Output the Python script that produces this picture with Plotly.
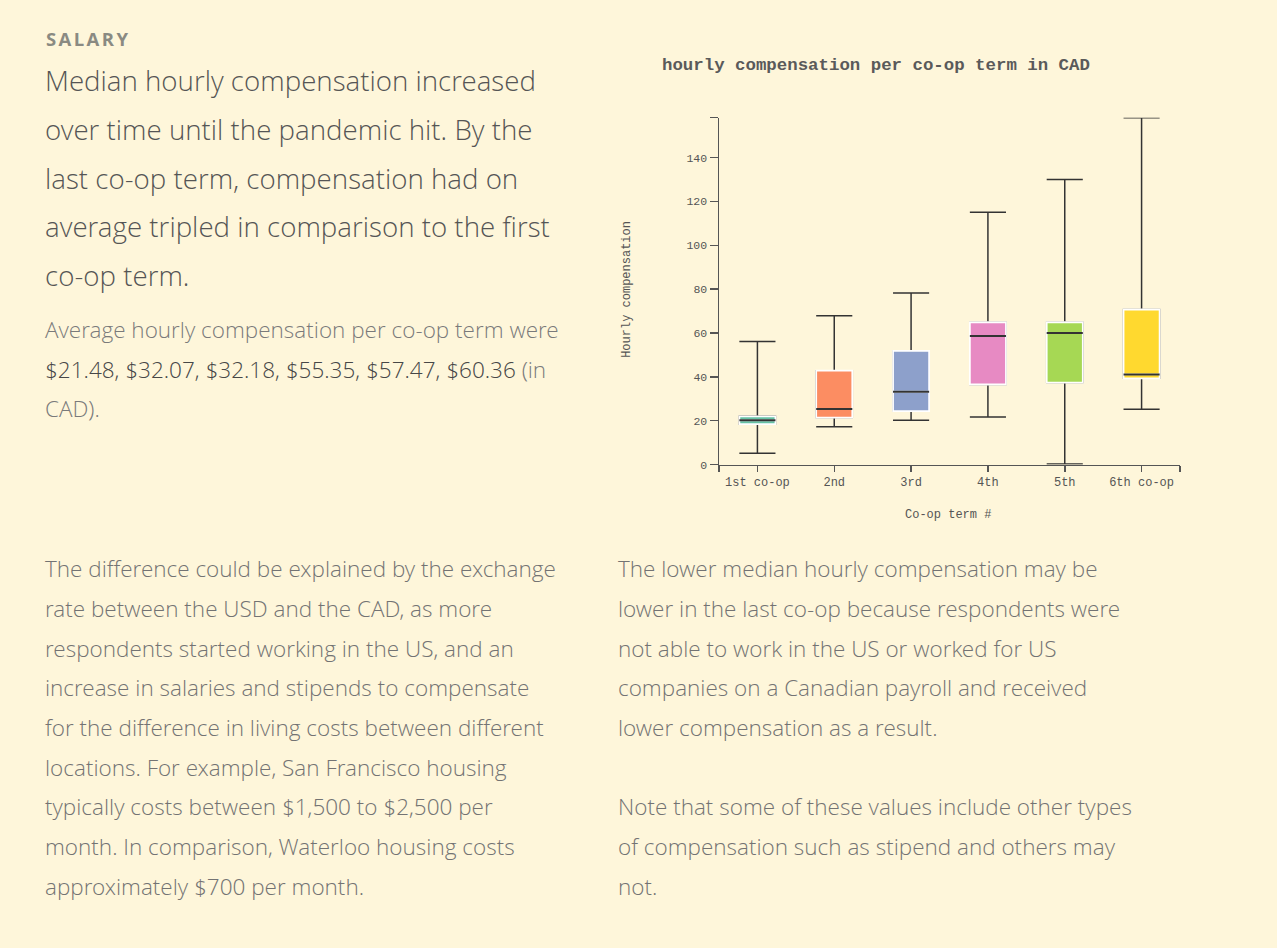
import plotly.graph_objects as go

# ---------------- data ----------------
terms = ["1st co-op", "2nd", "3rd", "4th", "5th", "6th co-op"]
lower_fence = [5.1, 17.2, 20.2, 21.7, 0.2, 25.2]
q1 = [18.4, 21.4, 24.4, 36.5, 37.4, 39.3]
median = [20.2, 25.3, 33.2, 58.6, 60.0, 41.1]
q3 = [22.0, 42.8, 51.8, 64.9, 64.9, 70.7]
upper_fence = [56.1, 67.8, 78.2, 115.1, 130.0, 158.2]
colors = ["#66c2a5", "#fc8d62", "#8da0cb", "#e78ac3", "#a6d854", "#ffd92f"]
y_ticks = [0, 20, 40, 60, 80, 100, 120, 140]
y_max = 158.2

headline = [
    "Median hourly compensation increased",
    "over time until the pandemic hit. By the",
    "last co-op term, compensation had on",
    "average tripled in comparison to the first",
    "co-op term.",
]
averages = ["$21.48", "$32.07", "$32.18", "$55.35", "$57.47", "$60.36"]
left_para = [
    "The difference could be explained by the exchange",
    "rate between the USD and the CAD, as more",
    "respondents started working in the US, and an",
    "increase in salaries and stipends to compensate",
    "for the difference in living costs between different",
    "locations. For example, San Francisco housing",
    "typically costs between $1,500 to $2,500 per",
    "month. In comparison, Waterloo housing costs",
    "approximately $700 per month.",
]
right_para = [
    "The lower median hourly compensation may be",
    "lower in the last co-op because respondents were",
    "not able to work in the US or worked for US",
    "companies on a Canadian payroll and received",
    "lower compensation as a result.",
    "",
    "Note that some of these values include other types",
    "of compensation such as stipend and others may",
    "not.",
]

# ---------------- figure ----------------
W, H = 1277, 948
BG = "#fef6da"
AX = "#555555"
DARK = "#333333"
BW = 0.47
xs = list(range(len(terms)))

fig = go.Figure()

# whiskers + caps (dark)
fig.add_trace(go.Box(
    x=xs, q1=q1, median=median, q3=q3,
    lowerfence=lower_fence, upperfence=upper_fence,
    width=BW, whiskerwidth=1, boxpoints=False,
    fillcolor="rgba(0,0,0,0)", line=dict(color=DARK, width=1.5),
    hoverinfo="skip", showlegend=False,
))
# coloured boxes with white outline
for i in xs:
    fig.add_trace(go.Box(
        x=[i], q1=[q1[i]], median=[median[i]], q3=[q3[i]],
        lowerfence=[q1[i]], upperfence=[q3[i]],
        width=BW, whiskerwidth=0, boxpoints=False,
        fillcolor=colors[i], line=dict(color="white", width=1.8),
        hoverinfo="skip", showlegend=False,
    ))
# median lines (dark)
fig.add_trace(go.Box(
    x=xs, q1=median, median=median, q3=median,
    lowerfence=median, upperfence=median,
    width=BW, whiskerwidth=0, boxpoints=False,
    fillcolor="rgba(0,0,0,0)", line=dict(color=DARK, width=2),
    hoverinfo="skip", showlegend=False,
))

x0, x1 = 719 / W, 1180 / W
y0, y1 = 1 - 468 / H, 1 - 118.5 / H

mono = "Liberation Mono, DejaVu Sans Mono, monospace"
fig.update_layout(
    width=W, height=H,
    margin=dict(l=0, r=0, t=0, b=0),
    paper_bgcolor=BG, plot_bgcolor=BG,
    boxmode="overlay",
    font=dict(family=mono, size=12, color=AX),
    xaxis=dict(
        domain=[x0, x1], range=[-0.5, len(terms) - 0.5],
        tickvals=[-0.5] + xs + [len(terms) - 0.5],
        ticktext=[""] + terms + [""],
        ticks="outside", ticklen=6, tickwidth=1.5, tickcolor=AX,
        showline=True, linecolor=AX, linewidth=1.5,
        showgrid=False, zeroline=False, fixedrange=True,
        tickfont=dict(family=mono, size=12, color=AX),
    ),
    yaxis=dict(
        domain=[y0, y1], range=[0, y_max],
        tickvals=y_ticks + [y_max],
        ticktext=[str(v) for v in y_ticks] + [""],
        ticks="outside", ticklen=8, tickwidth=1.5, tickcolor=AX,
        showline=True, linecolor=AX, linewidth=1.5,
        showgrid=False, zeroline=False, fixedrange=True,
        tickfont=dict(family=mono, size=11.5, color=AX),
    ),
)

ann = []
# chart title and axis titles
ann.append(dict(text="<b>hourly compensation per co-op term in CAD</b>",
                x=876 / W, y=1 - 66 / H, xref="paper", yref="paper",
                xanchor="center", yanchor="middle", showarrow=False,
                font=dict(family=mono, size=17.4, color="#5a5a5a")))
ann.append(dict(text="Co-op term #", x=948 / W, y=1 - 519 / H,
                xref="paper", yref="paper", xanchor="center", yanchor="middle",
                showarrow=False, font=dict(family=mono, size=12, color=AX)))
ann.append(dict(text="Hourly compensation", x=627 / W, y=1 - 292 / H,
                xref="paper", yref="paper", xanchor="center", yanchor="middle",
                textangle=-90, showarrow=False,
                font=dict(family=mono, size=12, color=AX)))

sans = "Open Sans Light, Open Sans, Noto Sans, sans-serif"


def line(txt, x, y, size, color, weight=300, family=sans):
    ann.append(dict(text=txt, x=x / W, y=1 - y / H, xref="paper", yref="paper",
                    xanchor="left", yanchor="middle", showarrow=False, align="left",
                    font=dict(family=family, size=size, color=color, weight=weight)))


line('<span style="letter-spacing:2.4px">SALARY</span>', 44, 39, 18.5, "#8a8a82",
     weight=700, family="Open Sans, Noto Sans, sans-serif")
for k, t in enumerate(headline):
    line(t, 43, 81 + 49 * k, 27.7, "#555555")

line("Average hourly compensation per co-op term were", 43, 332, 22.5, "#7a7a7a")
avg_txt = ('<span style="color:#474747">' + ", ".join(averages) + "</span> (in")
line(avg_txt, 43, 372, 22.5, "#7a7a7a")
line("CAD).", 43, 412, 22.5, "#7a7a7a")

for k, t in enumerate(left_para):
    line(t, 43, 573 + 40 * k, 22.5, "#737373")
for k, t in enumerate(right_para):
    if t:
        line(t, 616, 573 + 40 * k, 22.5, "#737373")

fig.update_layout(annotations=ann)
fig.write_html(
    "out.html",
    config={"displayModeBar": False, "staticPlot": True},
    post_script=("document.body.style.margin='0';"
                 "document.body.style.background='" + BG + "';"
                 "document.body.style.overflow='hidden';"),
)
